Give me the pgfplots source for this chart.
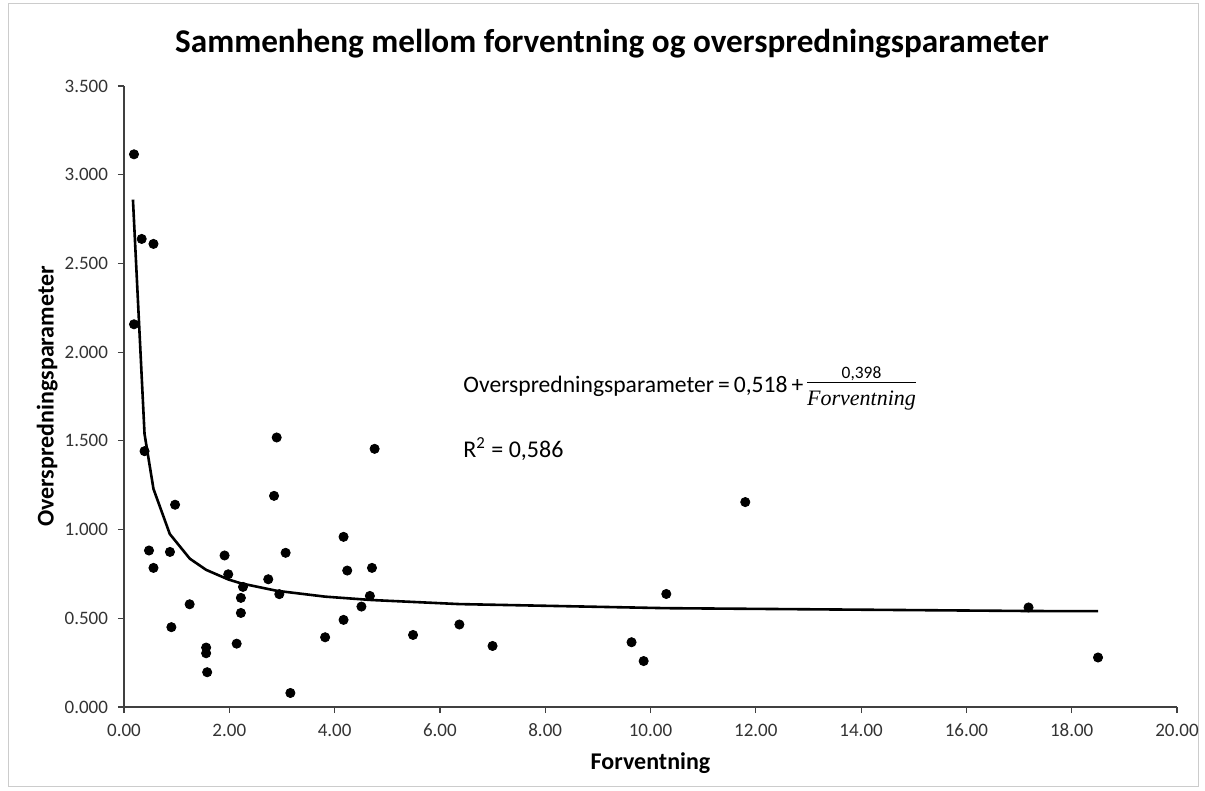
\documentclass[border=0pt]{standalone}
\usepackage{pgfplots}
\pgfplotsset{compat=1.18}
\usepackage{fontspec}
\setmainfont{Carlito}
\newfontfamily\serifit{Liberation Serif}
\begin{document}
\begin{tikzpicture}
\path[use as bounding box] (0,0) rectangle (602.5bp,395.5bp);
\draw[black!20, line width=0.5bp] (4bp,2bp) rectangle (599bp,393.5bp);
\node[anchor=base, font=\fontsize{16.6bp}{19bp}\selectfont\bfseries] at (306bp,369.2bp) {Sammenheng mellom forventning og overspredningsparameter};
\begin{axis}[
  at={(62bp,42bp)}, anchor=south west,
  scale only axis, width=526.5bp, height=310.5bp,
  xmin=0, xmax=20, ymin=0, ymax=3.5,
  xtick={0,2,...,20}, ytick={0,0.5,...,3.5},
  axis x line*=bottom, axis y line*=left,
  axis line style={black!75, line width=0.6bp},
  tick style={black!75, line width=0.6bp},
  tick align=outside, major tick length=3bp,
  /pgf/number format/assume math mode=true,
  xticklabel style={/pgf/number format/.cd, fixed, fixed zerofill, precision=2, /tikz/.cd, font=\fontsize{9.5bp}{11bp}\selectfont, text=black!80, anchor=base, yshift=-11.5bp},
  yticklabel style={/pgf/number format/.cd, fixed, fixed zerofill, precision=3, /tikz/.cd, font=\fontsize{9.5bp}{11bp}\selectfont, text=black!80, xshift=-1.5bp},
  xlabel={Forventning}, ylabel={Overspredningsparameter},
  xlabel style={at={(axis description cs:0.5,-0.101)}, anchor=base, font=\fontsize{12bp}{14bp}\selectfont\bfseries},
  ylabel style={at={(axis description cs:-0.073,0.5)}, anchor=center, font=\fontsize{12bp}{14bp}\selectfont\bfseries},
  clip=false,
]
\addplot[only marks, mark=*, mark size=2.3bp, black] coordinates {
(0.19,3.115) (0.336,2.638) (0.56,2.61) (0.19,2.157) (0.39,1.442)
(2.90,1.519) (2.85,1.19) (0.97,1.14) (0.475,0.882) (0.873,0.874)
(0.56,0.784) (1.91,0.854) (3.07,0.869) (1.98,0.748) (2.74,0.72)
(2.26,0.677) (2.22,0.615) (2.95,0.636) (2.22,0.53) (1.247,0.579)
(0.90,0.45) (2.14,0.357) (1.56,0.335) (1.56,0.303) (1.58,0.196)
(3.16,0.079) (3.82,0.393) (4.76,1.455) (4.17,0.959) (4.24,0.769)
(4.71,0.784) (4.67,0.626) (4.51,0.566) (4.17,0.491) (5.49,0.406)
(6.37,0.465) (7.00,0.344) (9.64,0.365) (9.87,0.259) (10.30,0.637)
(11.80,1.155) (17.18,0.561) (18.50,0.279)
};
\addplot[black, line width=1.3bp] coordinates {
(0.17,2.86) (0.39,1.539) (0.56,1.229) (0.87,0.975) (1.25,0.836)
(1.56,0.773) (1.98,0.719) (2.22,0.697) (2.90,0.655) (3.82,0.622)
(4.70,0.603) (6.37,0.580) (10.30,0.557) (17.18,0.541) (18.50,0.540)
};
\node[anchor=base west, font=\fontsize{11.8bp}{14bp}\selectfont, inner sep=0pt] at (axis cs:6.44,1.775)
  {Overspredningsparameter\,=\,0,518\,+\,\begin{tabular}{@{}c@{}}{\fontsize{8.7bp}{10bp}\selectfont 0,398}\\[-2bp]\hline\rule{0pt}{11bp}{\fontsize{11bp}{12bp}\selectfont\serifit\itshape Forventning}\end{tabular}};
\node[anchor=base west, font=\fontsize{12bp}{14bp}\selectfont, inner sep=0pt] at (axis cs:6.44,1.408)
  {R\textsuperscript{2} = 0,586};
\end{axis}
\end{tikzpicture}
\end{document}
